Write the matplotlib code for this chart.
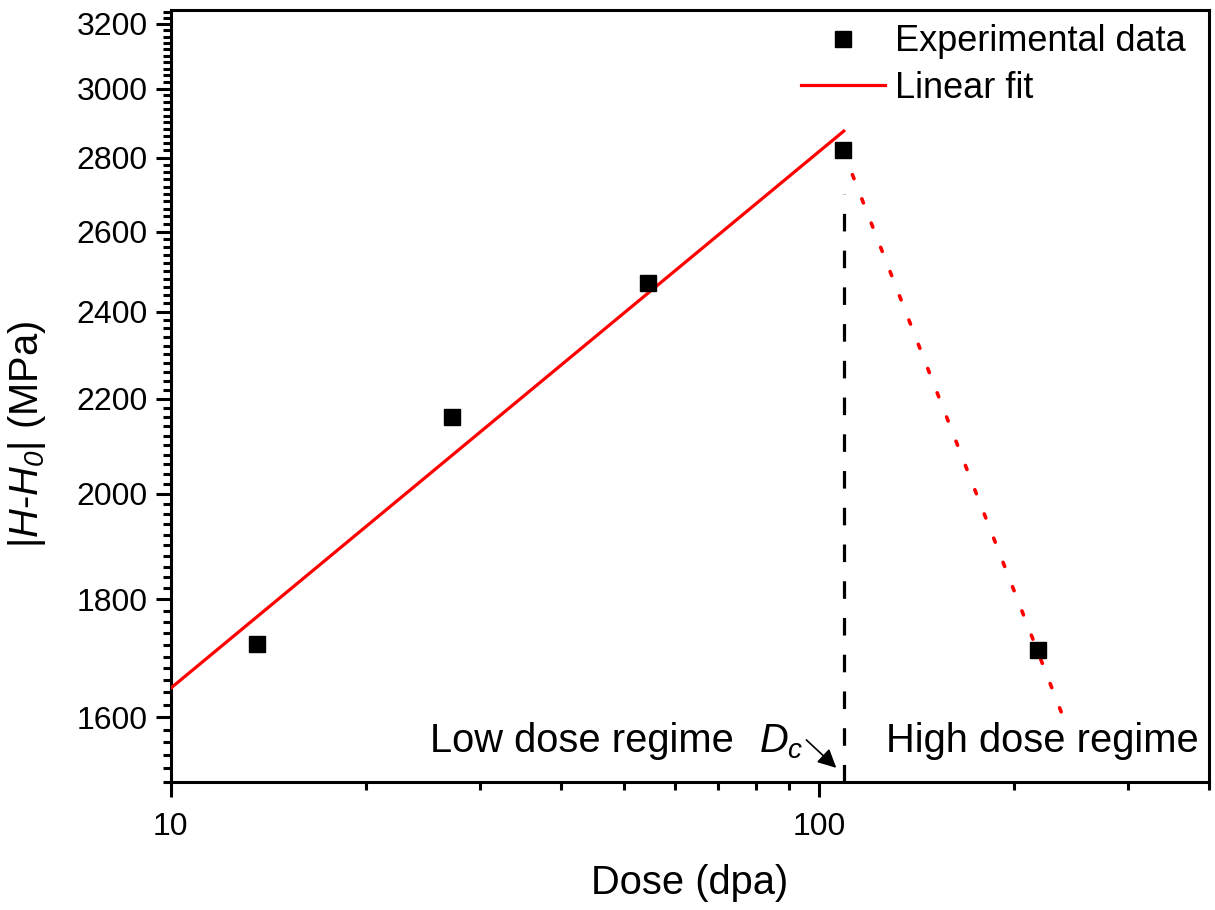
import numpy as np
import matplotlib
matplotlib.use("Agg")
import matplotlib.pyplot as plt
from matplotlib.ticker import MultipleLocator, FixedLocator, NullFormatter, FuncFormatter

plt.rcParams['font.family'] = ['Liberation Sans', 'DejaVu Sans']
plt.rcParams['mathtext.fontset'] = 'custom'
plt.rcParams['mathtext.rm'] = 'Liberation Sans'
plt.rcParams['mathtext.it'] = 'Liberation Sans:italic'
plt.rcParams['mathtext.sf'] = 'Liberation Sans:italic'

# Experimental data
dose = [13.6, 27.2, 54.5, 109, 218]
hardness = [1721, 2160, 2471, 2820, 1711]

# Linear fit (low dose regime), endpoints
fit_dose = [10, 109.3]
fit_h = [1647, 2875]

# High dose regime trend (dotted)
high_dose = [109, 240]
high_h = [2820, 1592]

# critical dose
dc = 109.3

fig = plt.figure(figsize=(12.15, 9.1), dpi=100)
ax = fig.add_axes([0.1405, 0.141, 0.995 - 0.1405, 0.989 - 0.141])

ax.plot(high_dose, high_h, color='#ff0000', lw=2.6, linestyle=(0, (1.2, 6.0)),
        dash_capstyle='round', zorder=3)
ax.plot([dc, dc], [1500, 2700], color='black', lw=2.3, linestyle=(0, (5.5, 6.0)), zorder=2)
pts, = ax.plot(dose, hardness, 's', color='black', ms=11.5, zorder=4)
fit, = ax.plot(fit_dose, fit_h, color='#ff0000', lw=2.3, zorder=3)

ax.set_xscale('log')
ax.set_yscale('log')
ax.set_xlim(10, 400)
ax.set_ylim(1500, 3245)

ax.xaxis.set_major_locator(FixedLocator([10, 100]))
ax.xaxis.set_major_formatter(FuncFormatter(lambda v, p: '%d' % v))
ax.xaxis.set_minor_locator(FixedLocator([20, 30, 40, 50, 60, 70, 80, 90, 200, 300, 400]))
ax.xaxis.set_minor_formatter(NullFormatter())
ax.yaxis.set_major_locator(MultipleLocator(200))
ax.yaxis.set_major_formatter(FuncFormatter(lambda v, p: '%d' % v))
ax.yaxis.set_minor_locator(MultipleLocator(20))
ax.yaxis.set_minor_formatter(NullFormatter())

ax.tick_params(which='major', direction='out', length=10.5, width=2.2, labelsize=23)
ax.tick_params(axis='x', which='major', pad=11)
ax.tick_params(axis='y', which='major', pad=6)
ax.tick_params(which='minor', direction='out', length=5.8, width=2.2)
for s in ax.spines.values():
    s.set_linewidth(2.2)

ax.set_xlabel('Dose (dpa)', fontsize=28.7, labelpad=16)
ax.set_ylabel(r'|$\mathit{H}$-$\mathit{H}_\mathsf{0}$| (MPa)', fontsize=28.7)
ax.yaxis.set_label_coords(-0.118, 0.45)

ax.text(25.1, 1545, 'Low dose regime', fontsize=28.7, ha='left', va='baseline')
ax.text(126.8, 1545, 'High dose regime', fontsize=28.7, ha='left', va='baseline')
ax.text(94.6, 1545, r'$\mathit{D}_\mathsf{c}$', fontsize=28.7, ha='right', va='baseline')
ax.annotate('', xy=(107.2, 1518), xytext=(95.0, 1567),
            arrowprops=dict(arrowstyle='-|>', color='black', lw=1.2, mutation_scale=28))

ax.legend([pts, fit], ['Experimental data', 'Linear fit'], loc='upper right',
          frameon=False, fontsize=26, handlelength=2.33, handletextpad=0.28,
          borderaxespad=0.0, labelspacing=0.32, bbox_to_anchor=(0.992, 1.0))

fig.savefig('out.png', dpi=100)
